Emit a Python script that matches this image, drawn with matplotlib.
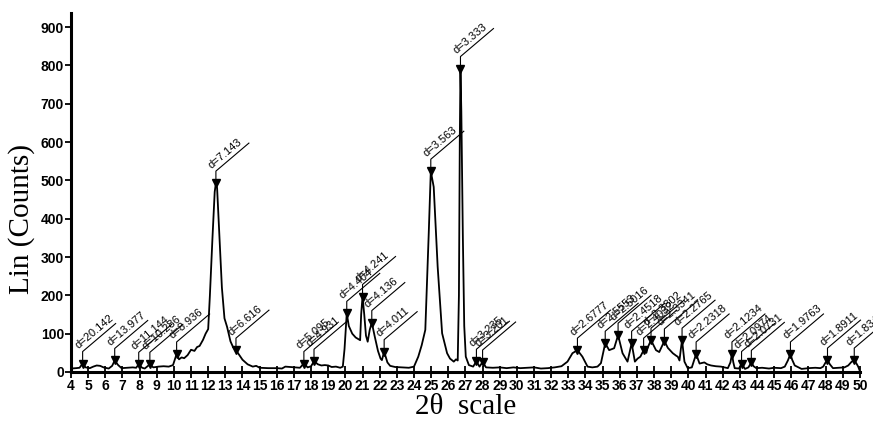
import numpy as np
import matplotlib
matplotlib.use('Agg')
import matplotlib.pyplot as plt

# XRD pattern (2theta in degrees, Lin counts)
two_theta = [4.0, 4.3, 4.5, 4.68, 4.85, 5.1, 5.3, 5.5, 5.7, 5.9, 6.2, 6.4, 6.55, 6.75, 6.95,
             7.3, 7.6, 7.8, 7.95, 8.15, 8.3, 8.6, 8.8, 9.1, 9.4, 9.7, 9.95, 10.16, 10.3, 10.45,
             10.6, 10.8, 11.0, 11.2, 11.35, 11.5, 11.7, 11.85, 12.0, 12.1, 12.25, 12.38, 12.45,
             12.52, 12.65, 12.8, 12.95, 13.1, 13.3, 13.45, 13.62, 13.8, 14.0, 14.3, 14.6, 14.8,
             15.0, 15.5, 16.0, 16.3, 16.5, 16.8, 17.1, 17.35, 17.58, 17.8, 18.0, 18.17, 18.4,
             18.6, 18.8, 19.0, 19.2, 19.45, 19.7, 19.85, 19.95, 20.08, 20.2, 20.4, 20.6, 20.86,
             20.92, 21.0, 21.1, 21.2, 21.3, 21.42, 21.54, 21.7, 21.9, 22.05, 22.13, 22.26, 22.45,
             22.61, 22.9, 23.3, 23.7, 24.0, 24.25, 24.45, 24.66, 24.86, 24.98, 25.15, 25.38,
             25.64, 25.93, 26.1, 26.32, 26.45, 26.55, 26.62, 26.67, 26.71, 26.76, 26.85, 26.93,
             27.02, 27.2, 27.45, 27.64, 27.82, 28.0, 28.2, 28.6, 29.0, 29.4, 29.8, 30.2, 30.6,
             31.0, 31.4, 31.8, 32.2, 32.6, 32.95, 33.24, 33.53, 33.82, 34.12, 34.4, 34.7, 34.9,
             35.15, 35.38, 35.67, 35.9, 36.16, 36.45, 36.69, 36.88, 37.04, 37.2, 37.39, 37.55,
             37.62, 37.82, 38.11, 38.3, 38.6, 38.8, 39.09, 39.3, 39.38, 39.48, 39.56, 39.63,
             39.7, 39.77, 39.96, 40.2, 40.45, 40.65, 40.93, 41.1, 41.32, 41.6, 41.9, 42.3, 42.45,
             42.54, 42.62, 42.7, 42.95, 43.1, 43.3, 43.5, 43.67, 43.8, 43.96, 44.3, 44.7, 45.0,
             45.4, 45.62, 45.8, 45.95, 46.05, 46.2, 46.6, 47.0, 47.4, 47.7, 47.86, 48.0, 48.11,
             48.25, 48.43, 48.8, 49.1, 49.32, 49.5, 49.67, 49.8, 49.9, 50.0]
counts = [9, 10, 11, 22, 12, 10, 14, 17, 16, 12, 9, 16, 30, 18, 10,
          11, 12, 11, 20, 11, 9, 20, 12, 14, 15, 14, 18, 47, 33, 38,
          36, 44, 58, 55, 65, 68, 84, 100, 112, 200, 350, 470, 493,
          480, 360, 220, 140, 118, 80, 65, 57, 45, 32, 20, 14, 16,
          11, 10, 10, 9, 14, 13, 12, 11, 22, 12, 15, 28, 20,
          17, 18, 17, 13, 14, 11, 14, 60, 153, 120, 100, 90, 83,
          150, 197, 150, 95, 79, 110, 129, 95, 55, 35, 31, 53, 25,
          16, 13, 12, 11, 14, 40, 70, 110, 362, 524, 483, 275,
          101, 49, 35, 27, 33, 30, 200, 600, 792, 680, 350, 120,
          40, 18, 14, 28, 14, 26, 12, 11, 12, 10, 12, 10, 11,
          12, 9, 10, 12, 15, 27, 49, 57, 40, 14, 12, 14, 23,
          75, 57, 62, 96, 49, 27, 75, 27, 35, 40, 57, 50,
          63, 83, 57, 52, 81, 63, 49, 42, 40, 30, 60, 83,
          55, 27, 10, 12, 47, 22, 25, 20, 17, 15, 14, 10, 25,
          47, 25, 10, 9, 22, 8, 12, 25, 15, 10, 11, 9, 11,
          10, 14, 30, 47, 32, 17, 8, 10, 11, 10, 14, 25, 31,
          20, 10, 11, 12, 17, 26, 31, 22, 14, 2]

# marked peaks
peak_2theta = [4.68, 6.55, 7.95, 8.6, 10.16, 12.45, 13.62, 17.58, 18.17, 20.08, 21.0, 21.54,
               22.26, 24.98, 26.71, 27.64, 28.0, 33.53, 35.15, 35.9, 36.69, 37.39, 37.82, 38.6,
               39.63, 40.45, 42.54, 43.1, 43.67, 45.95, 48.11, 49.67]
peak_counts = [22, 30, 20, 20, 47, 493, 57, 22, 28, 153, 197, 129,
               53, 524, 792, 28, 26, 57, 75, 96, 75, 57, 83, 81,
               83, 47, 47, 22, 25, 47, 31, 31]
peak_labels = ['d=20.142', 'd=13.977', 'd=11.144', 'd=10.286', 'd=8.936', 'd=7.143', 'd=6.616',
               'd=5.095', 'd=4.931', 'd=4.404', 'd=4.241', 'd=4.136', 'd=4.011', 'd=3.563',
               'd=3.333', 'd=3.235', 'd=3.201', 'd=2.6777', 'd=2.5553', 'd=2.5016', 'd=2.4518',
               'd=2.4032', 'd=2.3802', 'd=2.3341', 'd=2.2765', 'd=2.2318', 'd=2.1234', 'd=2.0974',
               'd=2.0731', 'd=1.9763', 'd=1.8911', 'd=1.834']

x_ticks = list(range(4, 51))
y_ticks = list(range(0, 1000, 100))

# %%
fig = plt.figure(figsize=(8.73, 4.26), dpi=100)
ax = fig.add_axes([0.0813, 0.1268, 0.9037, 0.8427])

ax.plot(two_theta, counts, color='black', lw=1.3, zorder=3)
ax.plot(peak_2theta, peak_counts, ls='none', marker='v', ms=5.5, color='black', zorder=4)

ax.set_xlim(4, 50)
ax.set_ylim(0, 937)

for side in ['top', 'right']:
    ax.spines[side].set_visible(False)
for side in ['left', 'bottom']:
    ax.spines[side].set_linewidth(2.2)

ax.set_xticks(x_ticks)
ax.set_yticks(y_ticks)
tick_font = {'family': 'Liberation Sans', 'weight': 'bold', 'size': 10}
ax.set_xticklabels([str(t) for t in x_ticks], fontdict=tick_font)
ax.set_yticklabels([str(t) for t in y_ticks], fontdict=tick_font)
ax.tick_params(axis='x', direction='inout', length=8, width=1.3, pad=1)
ax.tick_params(axis='y', direction='out', length=4, width=1.3, pad=1)

ax.set_ylabel('Lin (Counts)', family='Liberation Serif', fontsize=21)
ax.yaxis.set_label_coords(-0.046, 0.426)
ax.set_xlabel('2θ  scale', family='Liberation Serif', fontsize=21, labelpad=1)

# peak labels: short vertical stub, then a slanted leader with the d-value on it
to_disp = ax.transData
to_data = ax.transData.inverted()
stub = 12
dx, dy = 33, 28
for t, c, lab in zip(peak_2theta, peak_counts, peak_labels):
    px, py = to_disp.transform((t, c))
    pts = [(px, py), (px, py + stub), (px + dx, py + stub + dy)]
    xs, ys = zip(*[to_data.transform(p) for p in pts])
    ax.plot(xs, ys, color='black', lw=0.8, clip_on=False, zorder=2)
    tx, ty = to_data.transform((px - 3, py + stub + 1))
    ax.text(tx, ty, lab, rotation=40, rotation_mode='anchor', ha='left', va='bottom',
            family='Liberation Sans', fontsize=8, clip_on=False)

fig.savefig('out.png', dpi=100)
